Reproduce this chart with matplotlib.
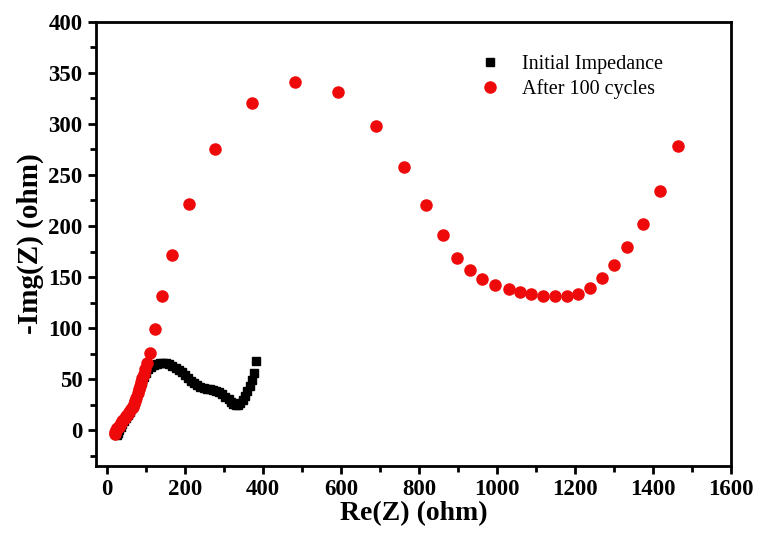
import numpy as np
import matplotlib
matplotlib.use("Agg")
import matplotlib.pyplot as plt
from matplotlib.ticker import MultipleLocator

# Initial impedance (black squares)
init_re = [25, 28, 32, 36, 40, 45, 50, 55, 60, 65, 70, 75, 80, 85, 90, 95, 100,
           106, 113, 120, 128, 136, 144, 152, 160, 168, 176, 184, 192, 200, 208,
           216, 224, 232, 240, 248, 256, 264, 272, 280, 288, 296, 304, 312, 318,
           324, 330, 336, 342, 348, 354, 360, 366, 372, 376, 382]
init_im = [-5, -3, 0, 3, 6, 9, 12, 15, 18, 22, 27, 32, 37, 42, 47, 52, 56,
           60, 62, 64, 65, 66, 66, 66, 65, 63, 61, 59, 57, 54, 51,
           48, 46, 44, 42, 41, 40, 40, 39, 38, 37, 35, 33, 31, 28,
           26, 25, 25, 27, 30, 34, 38, 43, 49, 56, 68]

# After 100 cycles (red circles)
cyc_re = [20, 22, 24, 27, 30, 33, 36, 39, 42, 46, 50, 54, 58, 62, 66, 70, 73,
          76, 79, 82, 85, 88, 91, 94, 98, 103, 110, 123, 141, 168, 211, 277,
          372, 481, 593, 689, 762, 817, 862, 898, 930, 962, 995, 1030, 1059,
          1088, 1118, 1148, 1179, 1207, 1238, 1268, 1300, 1333, 1373, 1418, 1463]
cyc_im = [-4, -2, 0, 2, 3, 5, 7, 9, 10, 12, 14, 16, 18, 21, 23, 26, 29,
          32, 36, 40, 43, 47, 51, 55, 60, 66, 76, 99, 131, 172, 222, 275,
          320, 341, 331, 298, 258, 221, 191, 169, 157, 148, 142, 138, 135,
          133, 131, 131, 131, 133, 139, 149, 162, 179, 202, 234, 278]

plt.rcParams['font.family'] = ['Liberation Serif', 'DejaVu Serif']

fig = plt.figure(figsize=(7.61, 5.45), dpi=100)
ax = fig.add_axes([0.126, 0.145, 0.835, 0.815])

ax.plot(init_re, init_im, 's', color='black', markersize=5.5, label='Initial Impedance')
ax.plot(cyc_re, cyc_im, 'o', color='#ee0a0a', markersize=8, label='After 100 cycles')

ax.set_xlim(-28, 1600)
ax.set_ylim(-35, 400)
ax.xaxis.set_major_locator(MultipleLocator(200))
ax.xaxis.set_minor_locator(MultipleLocator(100))
ax.yaxis.set_major_locator(MultipleLocator(50))
ax.yaxis.set_minor_locator(MultipleLocator(25))

for s in ax.spines.values():
    s.set_linewidth(2)
ax.tick_params(which='major', direction='out', length=6, width=2, labelsize=16.5)
ax.tick_params(which='minor', direction='out', length=4, width=2)
for lab in ax.get_xticklabels() + ax.get_yticklabels():
    lab.set_fontweight('bold')

ax.set_xlabel('Re(Z) (ohm)', fontsize=20, fontweight='bold', labelpad=1)
ax.set_ylabel('-Img(Z) (ohm)', fontsize=21, fontweight='bold', labelpad=3)

ax.legend(loc='upper left', bbox_to_anchor=(0.576, 0.943), frameon=False,
          fontsize=14.5, handletextpad=0.6, borderaxespad=0, labelspacing=0.25)

fig.savefig('out.png', dpi=100)
